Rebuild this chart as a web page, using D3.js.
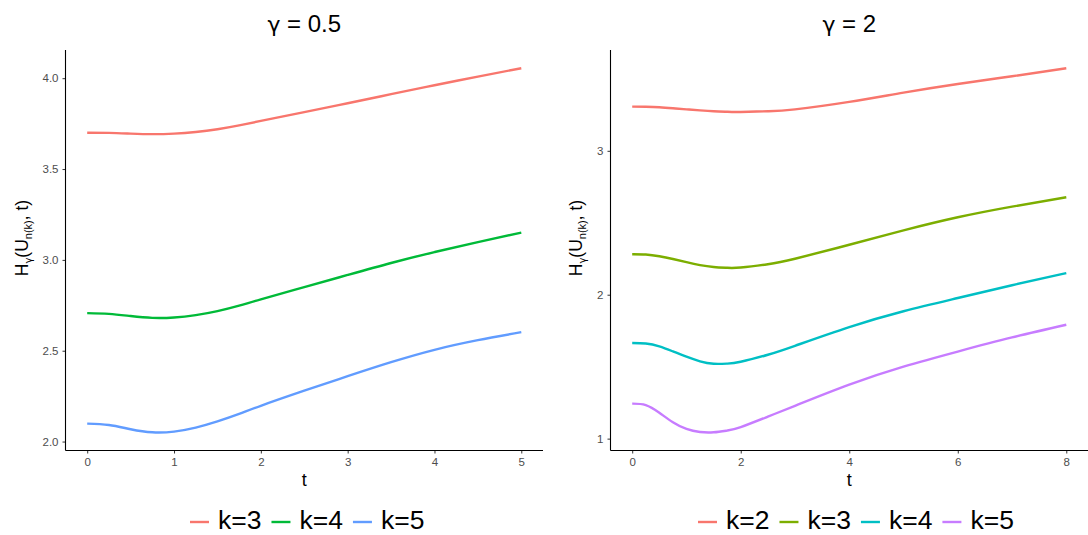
<!DOCTYPE html>
<html>
<head>
<meta charset="utf-8">
<script src="https://cdn.jsdelivr.net/npm/d3@7"></script>
<style>
  html, body { margin: 0; padding: 0; background: #fff; }
  svg { display: block; font-family: "Liberation Sans", Arial, sans-serif; }
  .greek { font-family: "DejaVu Sans", "Noto Sans", sans-serif; }
</style>
</head>
<body>
<svg id="chart" width="1088" height="535"></svg>
<script>
// ---- data: gamma = 0.5 panel ----
const tLeft = [0, 0.25, 0.5, 0.75, 1, 1.25, 1.5, 1.75, 2, 2.5, 3, 3.5, 4, 4.5, 5];
const leftK3 = [3.700, 3.699, 3.695, 3.692, 3.695, 3.704, 3.719, 3.740, 3.765, 3.813, 3.862, 3.912, 3.961, 4.009, 4.055];
const leftK4 = [2.707, 2.703, 2.691, 2.681, 2.683, 2.696, 2.718, 2.748, 2.783, 2.850, 2.917, 2.983, 3.043, 3.098, 3.150];
const leftK5 = [2.099, 2.091, 2.068, 2.051, 2.055, 2.077, 2.111, 2.152, 2.197, 2.280, 2.360, 2.437, 2.505, 2.558, 2.602];
const leftNames = ["k=3", "k=4", "k=5"];
const leftColors = ["#F8766D", "#00BA38", "#619CFF"];
const leftYTicks = [2.0, 2.5, 3.0, 3.5, 4.0];
const leftXTicks = [0, 1, 2, 3, 4, 5];

// ---- data: gamma = 2 panel ----
const tRight = [0, 0.25, 0.5, 0.75, 1, 1.25, 1.5, 1.75, 2, 2.5, 3, 4, 5, 6, 7, 8];
const rightK2 = [3.307, 3.306, 3.303, 3.296, 3.288, 3.281, 3.275, 3.271, 3.270, 3.275, 3.288, 3.340, 3.404, 3.464, 3.518, 3.574];
const rightK3 = [2.281, 2.279, 2.267, 2.248, 2.226, 2.206, 2.193, 2.187, 2.189, 2.212, 2.250, 2.347, 2.447, 2.538, 2.612, 2.677];
const rightK4 = [1.665, 1.661, 1.641, 1.606, 1.569, 1.537, 1.520, 1.521, 1.534, 1.583, 1.645, 1.775, 1.885, 1.977, 2.066, 2.150];
const rightK5 = [1.243, 1.233, 1.180, 1.114, 1.067, 1.046, 1.044, 1.056, 1.080, 1.153, 1.228, 1.375, 1.500, 1.605, 1.703, 1.791];
const rightNames = ["k=2", "k=3", "k=4", "k=5"];
const rightColors = ["#F8766D", "#7CAE00", "#00BFC4", "#C77CFF"];
const rightYTicks = [1, 2, 3];
const rightXTicks = [0, 2, 4, 6, 8];

const svg = d3.select("#chart");

function expand(ext, f) {
  const pad = (ext[1] - ext[0]) * f;
  return [ext[0] - pad, ext[1] + pad];
}

function drawPanel(opts) {
  const { left, right, top, bottom, t, series, names, colors, xTicks, yTicks, yFmt, gammaText, yTitleX, legendStart } = opts;
  const g = svg.append("g");

  const allY = series.flat();
  const x = d3.scaleLinear().domain(expand(d3.extent(t), 0.05)).range([left, right]);
  const y = d3.scaleLinear().domain(expand(d3.extent(allY), 0.05)).range([bottom, top]);

  // smooth curves through the sampled values
  const line = d3.line()
    .x(d => x(d[0]))
    .y(d => y(d[1]))
    .curve(d3.curveNatural);

  series.forEach((vals, i) => {
    g.append("path")
      .datum(t.map((tt, j) => [tt, vals[j]]))
      .attr("d", line)
      .attr("fill", "none")
      .attr("stroke", colors[i])
      .attr("stroke-width", 2.4);
  });

  // axes
  const xAxis = d3.axisBottom(x).tickValues(xTicks).tickSize(3).tickPadding(4).tickFormat(d3.format("d"));
  const yAxis = d3.axisLeft(y).tickValues(yTicks).tickSize(3).tickPadding(4).tickFormat(yFmt);

  const gx = g.append("g").attr("transform", `translate(0,${bottom})`).call(xAxis);
  const gy = g.append("g").attr("transform", `translate(${left},0)`).call(yAxis);
  [gx, gy].forEach(a => {
    a.select(".domain").remove();
    a.selectAll(".tick line").attr("stroke", "#333333").attr("stroke-width", 1);
    a.selectAll(".tick text").attr("fill", "#4D4D4D").style("font-size", "11.5px")
      .style("font-family", "'Liberation Sans', Arial, sans-serif");
  });
  // axis lines
  g.append("line").attr("x1", left).attr("x2", right).attr("y1", bottom).attr("y2", bottom)
    .attr("stroke", "#000").attr("stroke-width", 1.1);
  g.append("line").attr("x1", left).attr("x2", left).attr("y1", top).attr("y2", bottom)
    .attr("stroke", "#000").attr("stroke-width", 1.1);

  // x title
  g.append("text").attr("x", (left + right) / 2).attr("y", 486)
    .attr("text-anchor", "middle").style("font-size", "18px").attr("fill", "#000").text("t");

  // y title: H_gamma(U_n(k), t)
  const yt = g.append("text")
    .attr("transform", `translate(${yTitleX},238) rotate(-90)`)
    .attr("text-anchor", "middle").style("font-size", "17.5px").attr("fill", "#000");
  yt.append("tspan").text("H");
  yt.append("tspan").attr("class", "greek").attr("dy", 4).style("font-size", "10px").text("γ");
  yt.append("tspan").attr("dy", -4).text("(U");
  yt.append("tspan").attr("dy", 4).style("font-size", "11px").text("n(k)");
  yt.append("tspan").attr("dy", -4).text(", t)");

  // panel title
  const tt = g.append("text").attr("x", (left + right) / 2).attr("y", 32)
    .attr("text-anchor", "middle").style("font-size", "24px").attr("fill", "#000");
  tt.append("tspan").attr("class", "greek").style("font-size", "22px").text("γ");
  tt.append("tspan").text(" = " + gammaText);

  // legend
  let lx = legendStart;
  names.forEach((nm, i) => {
    g.append("line").attr("x1", lx).attr("x2", lx + 19).attr("y1", 522).attr("y2", 522)
      .attr("stroke", colors[i]).attr("stroke-width", 2.4);
    const tx = g.append("text").attr("x", lx + 28).attr("y", 529)
      .style("font-size", "26.5px").attr("fill", "#000").text(nm);
    const w = tx.node().getComputedTextLength();
    lx = lx + 28 + w + 10;
  });
}

drawPanel({
  left: 65.5, right: 543, top: 50, bottom: 450.5,
  t: tLeft, series: [leftK3, leftK4, leftK5], names: leftNames, colors: leftColors,
  xTicks: leftXTicks, yTicks: leftYTicks, yFmt: d3.format(".1f"),
  gammaText: "0.5", yTitleX: 28, legendStart: 190
});

drawPanel({
  left: 610.5, right: 1088, top: 50, bottom: 450.5,
  t: tRight, series: [rightK2, rightK3, rightK4, rightK5], names: rightNames, colors: rightColors,
  xTicks: rightXTicks, yTicks: rightYTicks, yFmt: d3.format("d"),
  gammaText: "2", yTitleX: 582, legendStart: 698
});
</script>
</body>
</html>
